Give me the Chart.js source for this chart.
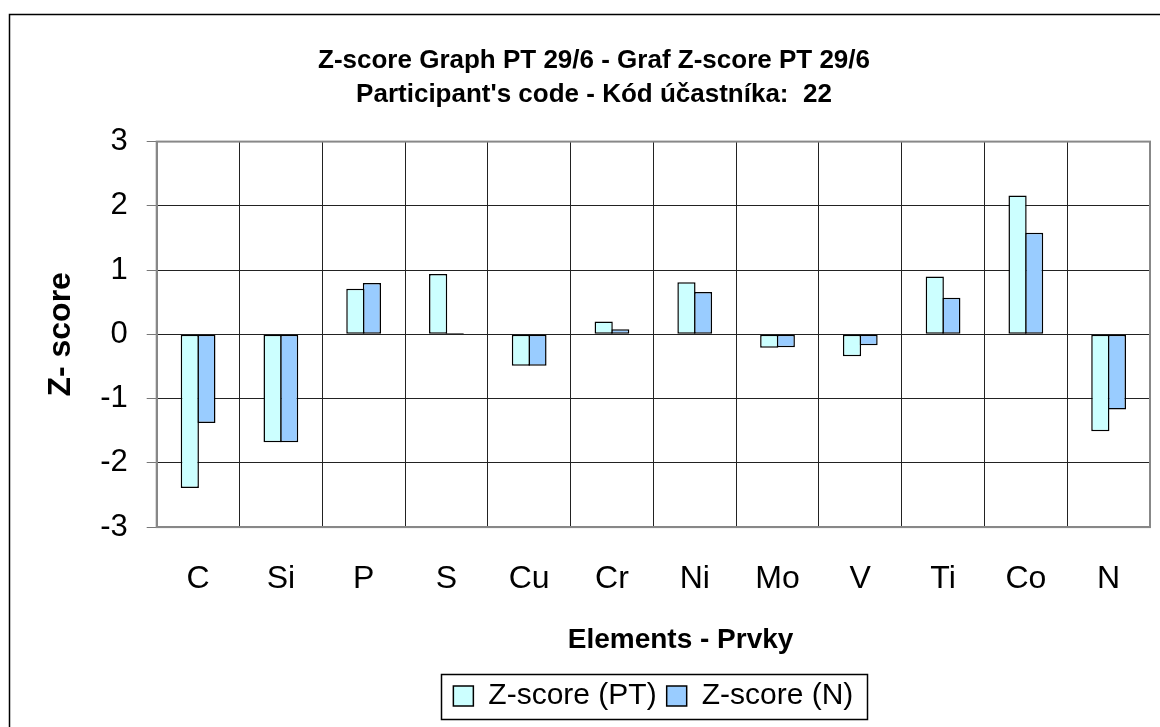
<!DOCTYPE html>
<html>
<head>
<meta charset="utf-8">
<script src="https://cdn.jsdelivr.net/npm/chart.js@4.4.1/dist/chart.umd.min.js"></script>
<style>
  html, body { margin: 0; padding: 0; background: #fff; }
  #wrap { width: 1160px; height: 727px; }
</style>
</head>
<body>
<div id="wrap"><canvas id="zChart" width="1160" height="727"></canvas></div>
<script>
// Z-score per element, two series (PT and N)
var elements = ['C', 'Si', 'P', 'S', 'Cu', 'Cr', 'Ni', 'Mo', 'V', 'Ti', 'Co', 'N'];
var zPT = [-2.39, -1.68, 0.71, 0.94, -0.49, 0.20, 0.81, -0.21, -0.34, 0.90, 2.16, -1.51];
var zN  = [-1.38, -1.68, 0.80, 0.02, -0.49, 0.08, 0.66, -0.20, -0.17, 0.57, 1.58, -1.17];
var yTicks = [-3, -2, -1, 0, 1, 2, 3];

var FONT = '"Liberation Sans", Arial, sans-serif';

// white page + outer frame, plot frame, box round the legend
var framePlugin = {
  id: 'frames',
  beforeDraw: function(chart) {
    var ctx = chart.ctx;
    ctx.save();
    ctx.fillStyle = '#fff';
    ctx.fillRect(0, 0, chart.width, chart.height);
    ctx.strokeStyle = '#000';
    ctx.lineWidth = 1.5;
    ctx.strokeRect(9.5, 14.5, chart.width + 20, chart.height + 20);
    ctx.restore();
  },
  afterDraw: function(chart) {
    var ctx = chart.ctx, a = chart.chartArea;
    ctx.save();
    ctx.strokeStyle = '#888';
    ctx.lineWidth = 2;
    ctx.strokeRect(a.left, a.top, a.right - a.left, a.bottom - a.top);
    var hb = chart.legend.legendHitBoxes;
    if (hb && hb.length) {
      var first = hb[0], last = hb[hb.length - 1];
      var cy = first.top + first.height / 2;
      var x0 = Math.round(first.left - 12) + 0.5;
      var x1 = Math.round(last.left + last.width + 14) + 0.5;
      ctx.strokeStyle = '#000';
      ctx.lineWidth = 1.5;
      ctx.strokeRect(x0, Math.round(cy - 22.5) + 0.5, x1 - x0, 45);
    }
    ctx.restore();
  }
};

new Chart(document.getElementById('zChart'), {
  type: 'bar',
  data: {
    labels: elements,
    datasets: [{
      label: 'Z-score (PT)',
      data: zPT,
      backgroundColor: '#CCFFFF',
      borderColor: '#000',
      borderWidth: 1.5,
      borderSkipped: false
    }, {
      label: 'Z-score (N)',
      data: zN,
      backgroundColor: '#99CCFF',
      borderColor: '#000',
      borderWidth: 1.5,
      borderSkipped: false
    }]
  },
  options: {
    responsive: false,
    animation: false,
    events: [],
    layout: { padding: { left: 38, right: 10, top: 0, bottom: 6 } },
    datasets: { bar: { categoryPercentage: 0.40, barPercentage: 1.1 } },
    plugins: {
      title: {
        display: true,
        text: ["Z-score Graph PT 29/6 - Graf Z-score PT 29/6", "Participant's code - Kód účastníka:  22"],
        color: '#000',
        font: { family: FONT, size: 26, weight: 'bold', lineHeight: 1.3 },
        padding: { top: 44, bottom: 30 }
      },
      legend: {
        position: 'bottom',
        fullSize: false,
        labels: {
          color: '#000',
          font: { family: FONT, size: 30 },
          boxWidth: 20,
          boxHeight: 20,
          padding: 10
        }
      },
      tooltip: { enabled: false }
    },
    scales: {
      x: {
        afterFit: function(scale) { scale.height = 143.9; },
        grid: {
          offset: true,
          drawTicks: false,
          color: function(c) { return c.index === elements.length ? '#888' : '#222'; }
        },
        border: { color: '#888', width: 2 },
        ticks: { color: '#000', padding: 33, font: { family: FONT, size: 32 } },
        title: {
          display: true,
          text: '       Elements - Prvky',
          color: '#000',
          font: { family: FONT, size: 28, weight: 'bold', lineHeight: 1.2 },
          padding: { top: 0, bottom: 14 }
        }
      },
      y: {
        min: yTicks[0],
        max: yTicks[yTicks.length - 1],
        afterFit: function(scale) { scale.width = 118.7; },
        afterBuildTicks: function(scale) {
          scale.ticks = yTicks.map(function(v) { return { value: v }; });
        },
        grid: {
          color: function(c) { return c.tick && c.tick.value === 3 ? '#888' : '#222'; },
          tickColor: '#777',
          tickLength: 10
        },
        border: { color: '#888', width: 2 },
        ticks: { color: '#000', padding: 19, font: { family: FONT, size: 31 } },
        title: {
          display: true,
          text: 'Z- score',
          color: '#000',
          font: { family: FONT, size: 32, weight: 'bold', lineHeight: 1.2 },
          padding: { top: 4, bottom: 0 }
        }
      }
    }
  },
  plugins: [framePlugin]
});
</script>
</body>
</html>
